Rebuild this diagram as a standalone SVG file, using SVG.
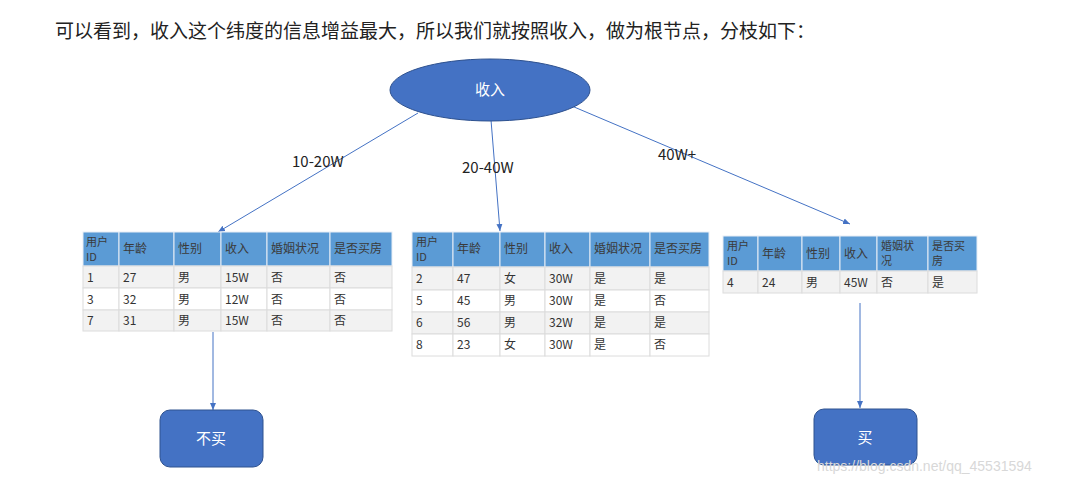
<svg xmlns="http://www.w3.org/2000/svg" width="1070" height="485" viewBox="0 0 1070 485">
<style>
text{font-family:"Microsoft YaHei","Noto Sans CJK SC","Liberation Sans",sans-serif;}
.c{font-size:12px;fill:#333}
.h{font-size:12px;fill:#3a3a3a}
.h2{font-size:11px;fill:#3a3a3a}
.hd{fill:#5b9bd5;stroke:#e8eef6;stroke-width:1}
.r1{fill:#f2f2f2;stroke:#dcdcdc}
.r2{fill:#ffffff;stroke:#dcdcdc}
.ln{stroke:#4472c4;stroke-width:1;fill:none;marker-end:url(#a)}
.lb{font-size:15px;fill:#222}
.w{fill:#fff;font-size:15px}
</style>
<defs><marker id="a" markerWidth="8" markerHeight="8" refX="7" refY="4" orient="auto" markerUnits="userSpaceOnUse"><path d="M0,1 L7,4 L0,7z" fill="#4472c4"/></marker></defs>
<rect width="1070" height="485" fill="#fff"/>
<text x="55" y="38" style="font-size:19px;fill:#222">可以看到，收入这个纬度的信息增益最大，所以我们就按照收入，做为根节点，分枝如下：</text>
<g id="connectors">
<line class="ln" x1="418" y1="113" x2="218" y2="232"/>
<line class="ln" x1="491" y1="120" x2="500" y2="231"/>
<line class="ln" x1="560" y1="101" x2="850" y2="224"/>
<line class="ln" x1="213" y1="332" x2="213" y2="410"/>
<line class="ln" x1="860" y1="303" x2="860" y2="408"/>
<text class="lb" x="292" y="167">10-20W</text>
<text class="lb" x="462" y="173">20-40W</text>
<text class="lb" x="658" y="160">40W+</text>
</g>
<g id="root"><ellipse cx="490" cy="90" rx="100" ry="31" fill="#4472c4" stroke="#2f528f"/><text class="w" x="490" y="95" text-anchor="middle">收入</text></g>
<g id="t1">
<rect class="hd" x="83" y="232" width="36" height="34"/><rect class="hd" x="119" y="232" width="55" height="34"/><rect class="hd" x="174" y="232" width="47" height="34"/><rect class="hd" x="221" y="232" width="46" height="34"/><rect class="hd" x="267" y="232" width="63" height="34"/><rect class="hd" x="330" y="232" width="62" height="34"/>
<text class="h2" x="86" y="246">用户</text><text class="h2" x="86" y="261">ID</text><text class="h" x="123" y="253">年龄</text><text class="h" x="178" y="253">性别</text><text class="h" x="225" y="253">收入</text><text class="h" x="271" y="253">婚姻状况</text><text class="h" x="334" y="253">是否买房</text>
<g class="r1"><rect x="83" y="266" width="36" height="22"/><rect x="119" y="266" width="55" height="22"/><rect x="174" y="266" width="47" height="22"/><rect x="221" y="266" width="46" height="22"/><rect x="267" y="266" width="63" height="22"/><rect x="330" y="266" width="62" height="22"/></g>
<g class="r2"><rect x="83" y="288" width="36" height="22"/><rect x="119" y="288" width="55" height="22"/><rect x="174" y="288" width="47" height="22"/><rect x="221" y="288" width="46" height="22"/><rect x="267" y="288" width="63" height="22"/><rect x="330" y="288" width="62" height="22"/></g>
<g class="r1"><rect x="83" y="310" width="36" height="21"/><rect x="119" y="310" width="55" height="21"/><rect x="174" y="310" width="47" height="21"/><rect x="221" y="310" width="46" height="21"/><rect x="267" y="310" width="63" height="21"/><rect x="330" y="310" width="62" height="21"/></g>
<text class="c" x="87" y="282">1</text><text class="c" x="123" y="282">27</text><text class="c" x="178" y="282">男</text><text class="c" x="225" y="282">15W</text><text class="c" x="271" y="282">否</text><text class="c" x="334" y="282">否</text>
<text class="c" x="87" y="304">3</text><text class="c" x="123" y="304">32</text><text class="c" x="178" y="304">男</text><text class="c" x="225" y="304">12W</text><text class="c" x="271" y="304">否</text><text class="c" x="334" y="304">否</text>
<text class="c" x="87" y="325">7</text><text class="c" x="123" y="325">31</text><text class="c" x="178" y="325">男</text><text class="c" x="225" y="325">15W</text><text class="c" x="271" y="325">否</text><text class="c" x="334" y="325">否</text>
</g>
<g id="t2">
<rect class="hd" x="412" y="232" width="41" height="35"/><rect class="hd" x="453" y="232" width="47" height="35"/><rect class="hd" x="500" y="232" width="45" height="35"/><rect class="hd" x="545" y="232" width="45" height="35"/><rect class="hd" x="590" y="232" width="60" height="35"/><rect class="hd" x="650" y="232" width="59" height="35"/>
<text class="h2" x="416" y="246">用户</text><text class="h2" x="416" y="261">ID</text><text class="h" x="457" y="253">年龄</text><text class="h" x="504" y="253">性别</text><text class="h" x="549" y="253">收入</text><text class="h" x="594" y="253">婚姻状况</text><text class="h" x="654" y="253">是否买房</text>
<g class="r1"><rect x="412" y="267" width="41" height="23"/><rect x="453" y="267" width="47" height="23"/><rect x="500" y="267" width="45" height="23"/><rect x="545" y="267" width="45" height="23"/><rect x="590" y="267" width="60" height="23"/><rect x="650" y="267" width="59" height="23"/></g>
<g class="r2"><rect x="412" y="290" width="41" height="22"/><rect x="453" y="290" width="47" height="22"/><rect x="500" y="290" width="45" height="22"/><rect x="545" y="290" width="45" height="22"/><rect x="590" y="290" width="60" height="22"/><rect x="650" y="290" width="59" height="22"/></g>
<g class="r1"><rect x="412" y="312" width="41" height="22"/><rect x="453" y="312" width="47" height="22"/><rect x="500" y="312" width="45" height="22"/><rect x="545" y="312" width="45" height="22"/><rect x="590" y="312" width="60" height="22"/><rect x="650" y="312" width="59" height="22"/></g>
<g class="r2"><rect x="412" y="334" width="41" height="22"/><rect x="453" y="334" width="47" height="22"/><rect x="500" y="334" width="45" height="22"/><rect x="545" y="334" width="45" height="22"/><rect x="590" y="334" width="60" height="22"/><rect x="650" y="334" width="59" height="22"/></g>
<text class="c" x="416" y="283">2</text><text class="c" x="457" y="283">47</text><text class="c" x="504" y="283">女</text><text class="c" x="549" y="283">30W</text><text class="c" x="594" y="283">是</text><text class="c" x="654" y="283">是</text>
<text class="c" x="416" y="305">5</text><text class="c" x="457" y="305">45</text><text class="c" x="504" y="305">男</text><text class="c" x="549" y="305">30W</text><text class="c" x="594" y="305">是</text><text class="c" x="654" y="305">否</text>
<text class="c" x="416" y="327">6</text><text class="c" x="457" y="327">56</text><text class="c" x="504" y="327">男</text><text class="c" x="549" y="327">32W</text><text class="c" x="594" y="327">是</text><text class="c" x="654" y="327">是</text>
<text class="c" x="416" y="349">8</text><text class="c" x="457" y="349">23</text><text class="c" x="504" y="349">女</text><text class="c" x="549" y="349">30W</text><text class="c" x="594" y="349">是</text><text class="c" x="654" y="349">否</text>
</g>
<g id="t3">
<rect class="hd" x="723" y="236" width="35" height="35"/><rect class="hd" x="758" y="236" width="44" height="35"/><rect class="hd" x="802" y="236" width="38" height="35"/><rect class="hd" x="840" y="236" width="37" height="35"/><rect class="hd" x="877" y="236" width="51" height="35"/><rect class="hd" x="928" y="236" width="49" height="35"/>
<text class="h2" x="727" y="250">用户</text><text class="h2" x="727" y="265">ID</text><text class="h" x="762" y="258">年龄</text><text class="h" x="806" y="258">性别</text><text class="h" x="844" y="258">收入</text><text class="h2" x="881" y="250">婚姻状</text><text class="h2" x="881" y="265">况</text><text class="h2" x="932" y="250">是否买</text><text class="h2" x="932" y="265">房</text>
<g class="r1"><rect x="723" y="271" width="35" height="22"/><rect x="758" y="271" width="44" height="22"/><rect x="802" y="271" width="38" height="22"/><rect x="840" y="271" width="37" height="22"/><rect x="877" y="271" width="51" height="22"/><rect x="928" y="271" width="49" height="22"/></g>
<text class="c" x="727" y="287">4</text><text class="c" x="762" y="287">24</text><text class="c" x="806" y="287">男</text><text class="c" x="844" y="287">45W</text><text class="c" x="881" y="287">否</text><text class="c" x="932" y="287">是</text>
</g>
<g id="nobuy"><rect x="160" y="410" width="103" height="57" rx="10" fill="#4472c4" stroke="#2f528f"/><text class="w" x="211" y="444" text-anchor="middle">不买</text></g>
<g id="buy"><rect x="814" y="409" width="103" height="56" rx="10" fill="#4472c4" stroke="#2f528f"/><text class="w" x="865" y="443" text-anchor="middle">买</text></g>
<text x="817" y="471" style="font-size:14px;fill:#d8d8d8;font-family:'Liberation Sans',sans-serif">https://blog.csdn.net/qq_45531594</text>
</svg>
